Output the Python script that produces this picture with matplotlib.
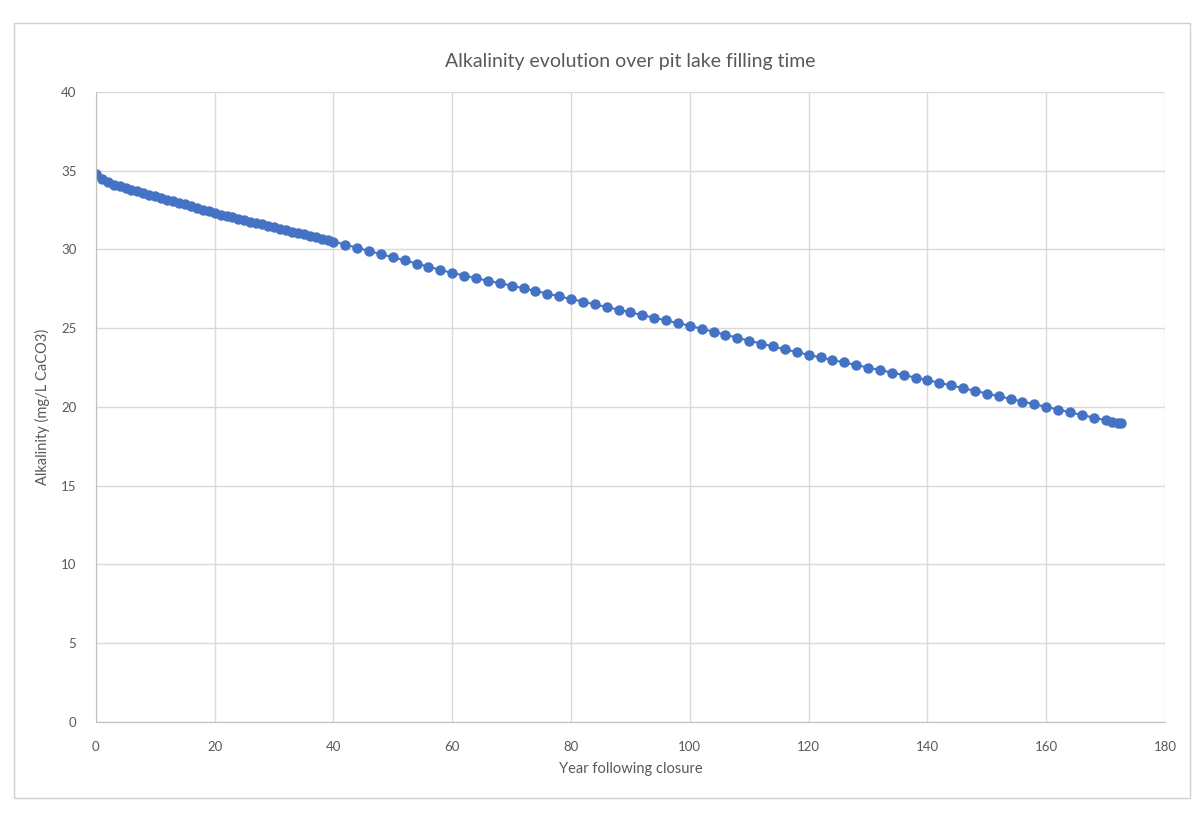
import matplotlib.pyplot as plt
from matplotlib.patches import Rectangle

# years following closure and alkalinity (mg/L CaCO3)
years = [0, 1, 2, 3, 4, 5, 6, 7, 8, 9, 10, 11, 12, 13, 14, 15, 16, 17, 18, 19, 20,
         21, 22, 23, 24, 25, 26, 27, 28, 29, 30, 31, 32, 33, 34, 35, 36, 37, 38, 39, 40,
         42, 44, 46, 48, 50, 52, 54, 56, 58, 60, 62, 64, 66, 68, 70, 72, 74, 76, 78, 80,
         82, 84, 86, 88, 90, 92, 94, 96, 98, 100, 102, 104, 106, 108, 110, 112, 114, 116,
         118, 120, 122, 124, 126, 128, 130, 132, 134, 136, 138, 140, 142, 144, 146, 148,
         150, 152, 154, 156, 158, 160, 162, 164, 166, 168, 170, 171, 172, 172.5]
alkalinity = [34.80, 34.45, 34.25, 34.10, 34.00, 33.90, 33.80, 33.70, 33.60, 33.48, 33.36,
              33.25, 33.15, 33.05, 32.95, 32.85, 32.74, 32.63, 32.52, 32.41, 32.30,
              32.21, 32.12, 32.03, 31.94, 31.85, 31.76, 31.67, 31.58, 31.49, 31.40,
              31.31, 31.22, 31.13, 31.04, 30.95, 30.86, 30.77, 30.68, 30.59, 30.50,
              30.30, 30.10, 29.90, 29.70, 29.50, 29.30, 29.10, 28.90, 28.70, 28.50,
              28.34, 28.17, 28.01, 27.85, 27.70, 27.53, 27.36, 27.19, 27.02, 26.85,
              26.68, 26.51, 26.34, 26.17, 26.00, 25.83, 25.66, 25.49, 25.32, 25.15,
              24.96, 24.77, 24.58, 24.39, 24.20, 24.02, 23.84, 23.66, 23.48, 23.30,
              23.14, 22.98, 22.82, 22.66, 22.50, 22.34, 22.18, 22.02, 21.86, 21.70,
              21.53, 21.36, 21.19, 21.02, 20.85, 20.68, 20.51, 20.34, 20.17, 20.00,
              19.83, 19.66, 19.49, 19.32, 19.15, 19.07, 18.98, 18.95]

x_ticks = [0, 20, 40, 60, 80, 100, 120, 140, 160, 180]
y_ticks = [0, 5, 10, 15, 20, 25, 30, 35, 40]

plt.rcParams['font.family'] = ['Lato', 'DejaVu Sans']
text_grey = "#595959"
grid_grey = "#d9d9d9"

fig = plt.figure(figsize=(11.98, 8.13), dpi=100)
# chart border
fig.patches.append(Rectangle((14 / 1198, 15 / 813), 1176 / 1198, 775 / 813,
                             transform=fig.transFigure, fill=False,
                             edgecolor="#d0d0d0", linewidth=1))

ax = fig.add_axes([0.080, 0.112, 0.8925, 0.775])
ax.plot(years, alkalinity, color="#4472C4", linewidth=1.5,
        marker="o", markersize=6.5, markeredgecolor="#4472C4")

ax.set_xlim(0, 180)
ax.set_ylim(0, 40)
ax.set_xticks(x_ticks)
ax.set_yticks(y_ticks)
ax.grid(True, color=grid_grey, linewidth=1)
ax.set_axisbelow(True)
for side in ["top", "right"]:
    ax.spines[side].set_visible(False)
for side in ["left", "bottom"]:
    ax.spines[side].set_color("#bfbfbf")
ax.tick_params(length=0, colors=text_grey, labelsize=9.5, pad=14)

ax.set_title("Alkalinity evolution over pit lake filling time",
             color=text_grey, fontsize=14, pad=18)
ax.set_xlabel("Year following closure", color=text_grey, fontsize=10.5, labelpad=6)
ax.set_ylabel("Alkalinity (mg/L CaCO3)", color=text_grey, fontsize=10.5, labelpad=8)

fig.savefig("out.png", dpi=100, facecolor="white")
